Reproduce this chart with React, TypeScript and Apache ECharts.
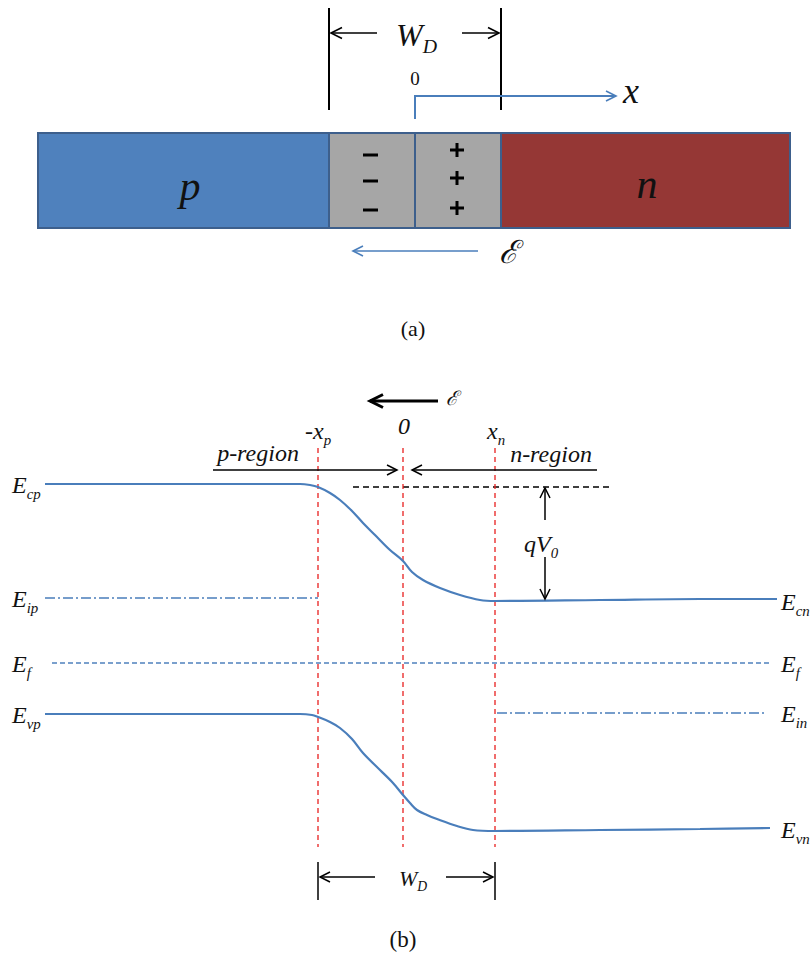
import React, { useEffect, useRef } from "react";
import * as echarts from "echarts";

// ---- data (x = position along the junction, y = energy level on the drawing scale) ----
const conductionBandX = [45, 300, 310, 318, 330, 340, 352, 363, 375, 390, 403, 412, 423, 440, 460, 480, 495, 600, 700, 777];
const conductionBandY = [484, 484, 485, 487, 493, 500, 511, 523, 535, 550, 561, 572, 580, 588, 595, 600, 601, 600, 599, 599];
const valenceBandX = [45, 200, 300, 312, 318, 330, 340, 352, 363, 380, 393, 403, 410, 417, 427, 437, 457, 473, 495, 600, 700, 770];
const valenceBandY = [714, 714, 714, 715, 717, 722, 728, 739, 753, 770, 783, 795, 803, 810, 815, 819, 826, 830, 831, 830, 829, 828];
const intrinsicP = { from: 45, to: 318, level: 598 };
const intrinsicN = { from: 497, to: 767, level: 713 };
const fermiLevel = { from: 52, to: 770, level: 663 };
const barrierRef = { from: 353, to: 610, level: 487 };
const junctionMarks = [318, 403, 495];
const junctionLabels = ["-x_p", "0", "x_n"];
const regionNames = ["p-region", "n-region"];
const leftLevelLabels = ["cp", "ip", "f", "vp"];
const rightLevelLabels = ["cn", "f", "in", "vn"];

const SERIF = "Liberation Serif";
const BLUE = "#4A7EBB";

function arrow(x1: number, y1: number, x2: number, y2: number, color: string, width: number, head = 9) {
  const dx = x2 - x1, dy = y2 - y1;
  const L = Math.hypot(dx, dy);
  const ux = dx / L, uy = dy / L;
  const px = -uy, py = ux;
  const bx = x2 - ux * head, by = y2 - uy * head;
  const w = head * 0.5;
  return [
    { type: "line", z: 10, shape: { x1, y1, x2, y2 }, style: { stroke: color, lineWidth: width } },
    {
      type: "polyline", z: 10,
      shape: { points: [[bx + px * w, by + py * w], [x2, y2], [bx - px * w, by - py * w]] },
      style: { stroke: color, lineWidth: width, fill: null },
    },
  ];
}

function sub(x: number, y: number, main: string, s: string, size: number, align = "left", italicSub = true) {
  return {
    type: "text", z: 10, x, y,
    style: {
      text: `{m|${main}}{s|${s}}`,
      align, verticalAlign: "middle",
      rich: {
        m: { fontFamily: SERIF, fontStyle: "italic", fontSize: size, fill: "#111", lineHeight: size * 1.1, verticalAlign: "bottom" },
        s: { fontFamily: SERIF, fontStyle: italicSub ? "italic" : "normal", fontSize: size * 0.62, fill: "#111", lineHeight: size * 0.62, verticalAlign: "bottom", padding: [0, 0, -size * 0.18, 0] },
      },
    },
  };
}

function plain(x: number, y: number, text: string, size: number, italic = true, extra: any = {}) {
  return {
    type: "text", z: 10, x, y,
    style: { text, fontFamily: SERIF, fontStyle: italic ? "italic" : "normal", fontSize: size, fill: "#111", align: "center", verticalAlign: "middle", ...extra },
  };
}

function hline(d: { from: number; to: number; level: number }) {
  return [[d.from, d.level], [d.to, d.level]];
}

export default function App() {
  const ref = useRef<HTMLDivElement>(null);
  useEffect(() => {
    if (!ref.current) return;
    const chart = echarts.init(ref.current, undefined, { renderer: "svg" });

    const graphics: any[] = [];

    // ---------- part (a) ----------
    graphics.push({ type: "rect", z: 5, shape: { x: 38, y: 133, width: 291, height: 95 }, style: { fill: "#4F81BD", stroke: "#3D5F8C", lineWidth: 2 } });
    graphics.push({ type: "rect", z: 5, shape: { x: 329, y: 133, width: 86, height: 95 }, style: { fill: "#A6A6A6", stroke: "#3D5F8C", lineWidth: 2 } });
    graphics.push({ type: "rect", z: 5, shape: { x: 415, y: 133, width: 86, height: 95 }, style: { fill: "#A6A6A6", stroke: "#3D5F8C", lineWidth: 2 } });
    graphics.push({ type: "rect", z: 5, shape: { x: 501, y: 133, width: 289, height: 95 }, style: { fill: "#953735", stroke: "#3D5F8C", lineWidth: 2 } });
    graphics.push(plain(190, 186, "p", 42));
    graphics.push(plain(647, 184, "n", 42));
    [155, 181, 210].forEach((y) =>
      graphics.push({ type: "rect", z: 10, shape: { x: 363, y: y - 1.5, width: 15, height: 3 }, style: { fill: "#000" } })
    );
    [150, 178, 208].forEach((y) => {
      graphics.push({ type: "rect", z: 10, shape: { x: 450, y: y - 1.5, width: 14, height: 3 }, style: { fill: "#000" } });
      graphics.push({ type: "rect", z: 10, shape: { x: 455.5, y: y - 7, width: 3, height: 14 }, style: { fill: "#000" } });
    });
    graphics.push({ type: "line", z: 10, shape: { x1: 329, y1: 8, x2: 329, y2: 110 }, style: { stroke: "#000", lineWidth: 2 } });
    graphics.push({ type: "line", z: 10, shape: { x1: 501, y1: 8, x2: 501, y2: 110 }, style: { stroke: "#000", lineWidth: 2 } });
    graphics.push(...arrow(377, 33, 331, 33, "#000", 1.6, 11));
    graphics.push(...arrow(462, 33, 499, 33, "#000", 1.6, 11));
    graphics.push(sub(396, 33, "W", "D", 32, "left"));
    graphics.push(plain(415, 78, "0", 19, false));
    graphics.push({ type: "polyline", z: 10, shape: { points: [[415, 119], [415, 96], [614, 96]] }, style: { stroke: BLUE, lineWidth: 2, fill: null } });
    graphics.push(...arrow(600, 96, 616, 96, BLUE, 1.6, 10));
    graphics.push(plain(631, 91, "x", 36));
    graphics.push(...arrow(478, 251, 353, 251, BLUE, 1.6, 10));
    graphics.push(plain(508, 252, "ℰ", 32));
    graphics.push(plain(413, 328, "(a)", 22, false));

    // ---------- part (b) ----------
    graphics.push(...arrow(438, 401, 370, 401, "#000", 3, 13));
    graphics.push(plain(452, 398, "ℰ", 20));
    junctionLabels.forEach((lab, i) => {
      const x = junctionMarks[i];
      if (lab.includes("_")) {
        const [m, s] = lab.split("_");
        graphics.push(sub(x + (i === 0 ? -13 : -8), 430, m, s, 24, "left"));
      } else {
        graphics.push(plain(x + 1, 426, lab, 24));
      }
    });
    graphics.push(plain(258, 453, regionNames[0], 24));
    graphics.push(plain(551, 454, regionNames[1], 24));
    graphics.push(...arrow(213, 470, 397, 470, "#000", 1.5, 10));
    graphics.push(...arrow(597, 470, 412, 470, "#000", 1.5, 10));
    graphics.push(...arrow(545, 520, 545, 488, "#000", 1.5, 10));
    graphics.push(...arrow(545, 557, 545, 599, "#000", 1.5, 10));
    graphics.push(sub(524, 543, "qV", "0", 24, "left"));

    const leftY = [484, 598, 663, 714];
    leftLevelLabels.forEach((s, i) => graphics.push(sub(12, leftY[i], "E", s, 24, "left")));
    const rightY = [601, 663, 713, 829];
    rightLevelLabels.forEach((s, i) => graphics.push(sub(781, rightY[i], "E", s, 24, "left")));

    graphics.push({ type: "line", z: 10, shape: { x1: 318, y1: 862, x2: 318, y2: 900 }, style: { stroke: "#000", lineWidth: 1.5 } });
    graphics.push({ type: "line", z: 10, shape: { x1: 495, y1: 862, x2: 495, y2: 900 }, style: { stroke: "#000", lineWidth: 1.5 } });
    graphics.push(...arrow(375, 877, 320, 877, "#000", 1.5, 10));
    graphics.push(...arrow(446, 877, 493, 877, "#000", 1.5, 10));
    graphics.push(sub(399, 877, "W", "D", 22, "left"));
    graphics.push(plain(403, 939, "(b)", 23, false));

    const zip = (xs: number[], ys: number[]) => xs.map((x, i) => [x, ys[i]]);

    const series: any[] = [
      {
        type: "line", name: "Ec", data: zip(conductionBandX, conductionBandY), smooth: 0.35, showSymbol: false,
        lineStyle: { color: BLUE, width: 2.2 }, z: 4,
      },
      {
        type: "line", name: "Ev", data: zip(valenceBandX, valenceBandY), smooth: 0.35, showSymbol: false,
        lineStyle: { color: BLUE, width: 2.2 }, z: 4,
      },
      {
        type: "line", name: "Eip", data: hline(intrinsicP), showSymbol: false,
        lineStyle: { color: "#4A7EBB", width: 1.5, type: [10, 3, 2, 3] },
      },
      {
        type: "line", name: "Ein", data: hline(intrinsicN), showSymbol: false,
        lineStyle: { color: "#4A7EBB", width: 1.5, type: [10, 3, 2, 3] },
      },
      {
        type: "line", name: "Ef", data: hline(fermiLevel), showSymbol: false,
        lineStyle: { color: "#4F81BD", width: 1.4, type: [5, 3] },
      },
      {
        type: "line", name: "ref", data: hline(barrierRef), showSymbol: false,
        lineStyle: { color: "#000", width: 1.5, type: [6, 4] },
      },
      ...junctionMarks.map((x) => ({
        type: "line", data: [[x, 448], [x, 847]], showSymbol: false,
        lineStyle: { color: "#E8201F", width: 1.3, type: [5, 4] }, z: 3,
      })),
    ];

    chart.setOption({
      animation: false,
      backgroundColor: "#ffffff",
      grid: { left: 0, right: 0, top: 0, bottom: 0 },
      xAxis: { type: "value", min: 0, max: 810, show: false },
      yAxis: { type: "value", min: 0, max: 956, inverse: true, show: false },
      series,
      graphic: graphics,
    });
    return () => chart.dispose();
  }, []);
  return <div ref={ref} style={{ position: "fixed", left: 0, top: 0, width: 810, height: 956 }} />;
}
